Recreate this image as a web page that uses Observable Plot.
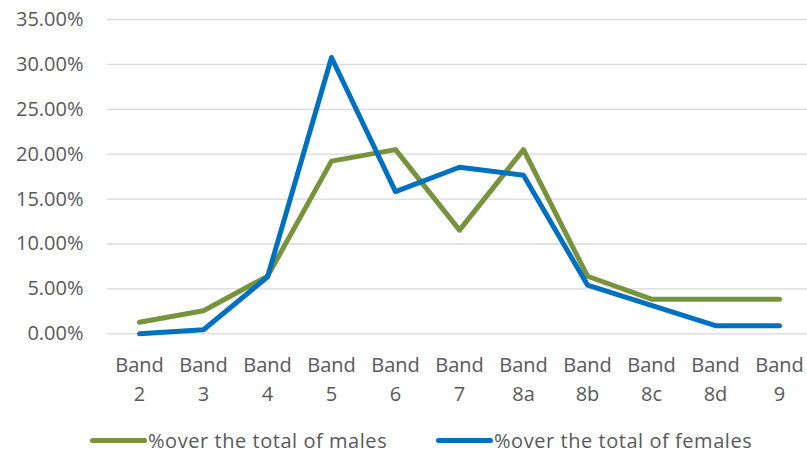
<!DOCTYPE html>
<html>
<head>
<meta charset="utf-8">
<script src="https://cdn.jsdelivr.net/npm/d3@7"></script>
<script src="https://cdn.jsdelivr.net/npm/@observablehq/plot@0.6"></script>
<style>
  html, body { margin: 0; padding: 0; background: #fff; }
  #chart { width: 807px; }
  .legend { position: relative; height: 44px; font-family: "Open Sans", sans-serif; font-size: 20px; letter-spacing: 0.55px; color: #595959; }
  .legend .item { position: absolute; top: 12px; display: flex; align-items: center; white-space: nowrap; }
  .legend .swatch { display: inline-block; width: 57px; height: 5px; border-radius: 3px; margin-right: 1px; }
</style>
</head>
<body>
<div id="chart"></div>
<script>
// Pay bands on the x axis
const bands = ["2", "3", "4", "5", "6", "7", "8a", "8b", "8c", "8d", "9"];
// Share of each sex in each band, in percent
const males = [1.28, 2.56, 6.41, 19.23, 20.51, 11.54, 20.51, 6.41, 3.85, 3.85, 3.85];
const females = [0, 0.45, 6.33, 30.77, 15.84, 18.55, 17.65, 5.43, 3.17, 0.90, 0.90];
const yTicks = [0, 0.05, 0.10, 0.15, 0.20, 0.25, 0.30, 0.35];
const seriesNames = ["%over the total of males", "%over the total of females"];
const colors = ["#77933C", "#0070C0"];

const rows = [];
bands.forEach((b, i) => {
  rows.push({band: b, value: males[i] / 100, series: seriesNames[0]});
  rows.push({band: b, value: females[i] / 100, series: seriesNames[1]});
});

const textColor = "#595959";
const font = "Open Sans, sans-serif";

const chart = Plot.plot({
  width: 807,
  height: 415,
  marginLeft: 107,
  marginRight: 0,
  marginTop: 19,
  marginBottom: 82,
  style: {fontFamily: font, fontSize: "20px", color: textColor, background: "#fff"},
  x: {type: "point", domain: bands, range: [139, 779], padding: 0},
  y: {domain: [0, 0.35], range: [333.3, 19]},
  color: {domain: seriesNames, range: colors},
  marks: [
    Plot.ruleY(yTicks, {stroke: "#d9d9d9", strokeWidth: 1.3}),
    Plot.axisY({
      ticks: yTicks, tickSize: 0, tickPadding: 24,
      tickFormat: d3.format(".2%"), label: null,
      fill: textColor, fontSize: 20
    }),
    Plot.axisX({
      tickSize: 0, tickPadding: 18, label: null,
      tickFormat: d => "Band\n" + d,
      lineHeight: 1.45, fill: textColor, fontSize: 20
    }),
    Plot.line(rows, {
      x: "band", y: "value", z: "series", stroke: "series",
      strokeWidth: 5, strokeLinecap: "round", strokeLinejoin: "round"
    })
  ]
});
document.getElementById("chart").append(chart);

const legend = document.createElement("div");
legend.className = "legend";
const lefts = [90, 436];
seriesNames.forEach((name, i) => {
  const item = document.createElement("div");
  item.className = "item";
  item.style.left = lefts[i] + "px";
  const sw = document.createElement("span");
  sw.className = "swatch";
  sw.style.background = colors[i];
  const label = document.createElement("span");
  label.textContent = name;
  item.append(sw, label);
  legend.append(item);
});
document.getElementById("chart").append(legend);
</script>
</body>
</html>
